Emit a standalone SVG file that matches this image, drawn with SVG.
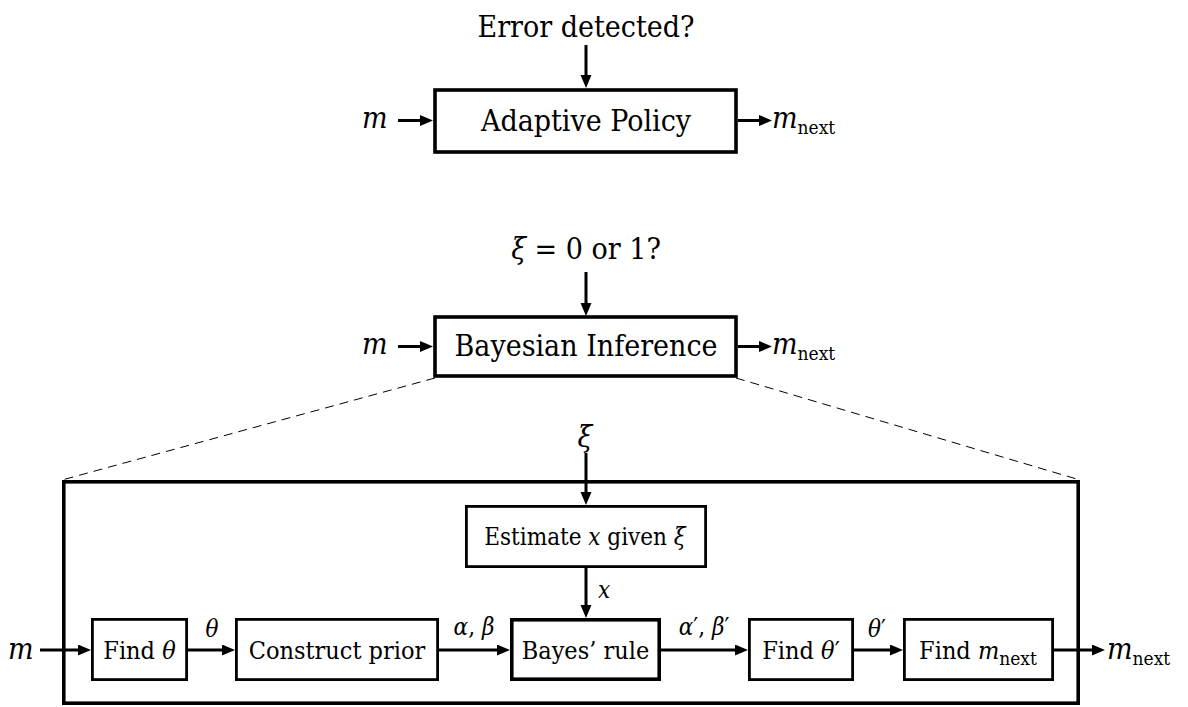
<svg xmlns="http://www.w3.org/2000/svg" width="1188" height="707" viewBox="0 0 1188 707">
<style>
text{font-family:'DejaVu Serif Condensed','DejaVu Serif',serif;font-stretch:condensed;fill:#000}
.big{font-size:30px}
.sm{font-size:25px}
.lbl{font-size:24px}
.it{font-style:italic}
.sub{font-size:19px;font-style:normal}
.box{fill:#fff;stroke:#000;stroke-width:2.8}
.bbox{fill:#fff;stroke:#000;stroke-width:3.6}
.ar{fill:none;stroke:#000;stroke-width:3;marker-end:url(#ah)}
.dash{fill:none;stroke:#000;stroke-width:1;stroke-dasharray:9 6}
</style>
<defs>
<marker id="ah" markerUnits="userSpaceOnUse" markerWidth="14" markerHeight="12" refX="0" refY="5.5" orient="auto">
<path d="M0,0 L13,5.5 L0,11 z" fill="#000"/>
</marker>
</defs>

<g id="adaptive-policy">
<text class="big" x="586" y="37" text-anchor="middle">Error detected?</text>
<rect class="bbox" x="435" y="90" width="301" height="62"/>
<text class="big" x="586" y="131" text-anchor="middle">Adaptive Policy</text>
<text class="big it" x="362" y="128">m</text>
<text class="big" x="772" y="128"><tspan class="it">m</tspan><tspan class="sub" dy="6">next</tspan></text>
</g>

<g id="bayesian-inference">
<text class="big" x="586" y="259" text-anchor="middle"><tspan class="it">ξ</tspan> = 0 or 1?</text>
<rect class="bbox" x="435" y="317" width="301" height="59"/>
<text class="big" x="586" y="356" text-anchor="middle">Bayesian Inference</text>
<text class="big it" x="362" y="354">m</text>
<text class="big" x="772" y="354"><tspan class="it">m</tspan><tspan class="sub" dy="6">next</tspan></text>
</g>

<g id="detail">
<rect class="bbox" x="63.8" y="481.8" width="1014.4" height="221.4"/>
<text class="big it" x="585" y="447" text-anchor="middle">ξ</text>
<text class="big it" x="8" y="659">m</text>
<text class="big" x="1107" y="659"><tspan class="it">m</tspan><tspan class="sub" dy="6">next</tspan></text>
</g>

<g id="estimate">
<rect class="box" x="466.4" y="506.4" width="239.2" height="60.2"/>
<text class="sm" x="585" y="545" text-anchor="middle" style="font-size:24px">Estimate <tspan class="it">x</tspan> given <tspan class="it">ξ</tspan></text>
<text class="lbl it" x="598" y="598">x</text>
</g>

<g id="find-theta">
<rect class="box" x="92.4" y="619.4" width="94.2" height="60.2"/>
<text class="sm" x="139.5" y="659" text-anchor="middle">Find <tspan class="it">θ</tspan></text>
<text class="lbl it" x="212" y="637" text-anchor="middle">θ</text>
</g>

<g id="construct-prior">
<rect class="box" x="236.4" y="619.4" width="201.2" height="60.2"/>
<text class="sm" x="337" y="659" text-anchor="middle">Construct prior</text>
<text class="lbl" x="474" y="635" text-anchor="middle"><tspan class="it">α</tspan>, <tspan class="it">β</tspan></text>
</g>

<g id="bayes-rule">
<rect class="bbox" x="511.8" y="619.8" width="147.4" height="59.4"/>
<text class="sm" x="585.5" y="659" text-anchor="middle">Bayes’ rule</text>
<text class="lbl" x="704" y="635" text-anchor="middle"><tspan class="it">α</tspan>′, <tspan class="it">β</tspan>′</text>
</g>

<g id="find-theta-prime">
<rect class="box" x="749.4" y="619.4" width="103.2" height="60.2"/>
<text class="sm" x="801" y="659" text-anchor="middle">Find <tspan class="it">θ</tspan>′</text>
<text class="lbl" x="877" y="637" text-anchor="middle"><tspan class="it">θ</tspan>′</text>
</g>

<g id="find-m-next">
<rect class="box" x="904.4" y="619.4" width="148.2" height="60.2"/>
<text class="sm" x="978" y="659" text-anchor="middle">Find <tspan class="it">m</tspan><tspan class="sub" dy="6">next</tspan></text>
</g>

<g id="connectors">
<line class="ar" x1="586" y1="45" x2="586" y2="75"/>
<line class="ar" x1="398" y1="120.5" x2="420" y2="120.5"/>
<line class="ar" x1="738" y1="120.5" x2="759" y2="120.5"/>
<line class="ar" x1="586" y1="272" x2="586" y2="303"/>
<line class="ar" x1="398" y1="346.5" x2="420" y2="346.5"/>
<line class="ar" x1="738" y1="346.5" x2="759" y2="346.5"/>
<line class="dash" x1="435" y1="378" x2="62" y2="480"/>
<line class="dash" x1="736" y1="378" x2="1080" y2="480"/>
<line class="ar" x1="586" y1="453" x2="586" y2="492"/>
<line class="ar" x1="586" y1="568" x2="586" y2="605"/>
<line class="ar" x1="40" y1="650" x2="78" y2="650"/>
<line class="ar" x1="188" y1="650" x2="222" y2="650"/>
<line class="ar" x1="439" y1="650" x2="497" y2="650"/>
<line class="ar" x1="661" y1="650" x2="735" y2="650"/>
<line class="ar" x1="854" y1="650" x2="890" y2="650"/>
<line class="ar" x1="1054" y1="650" x2="1092" y2="650"/>
</g>
</svg>
